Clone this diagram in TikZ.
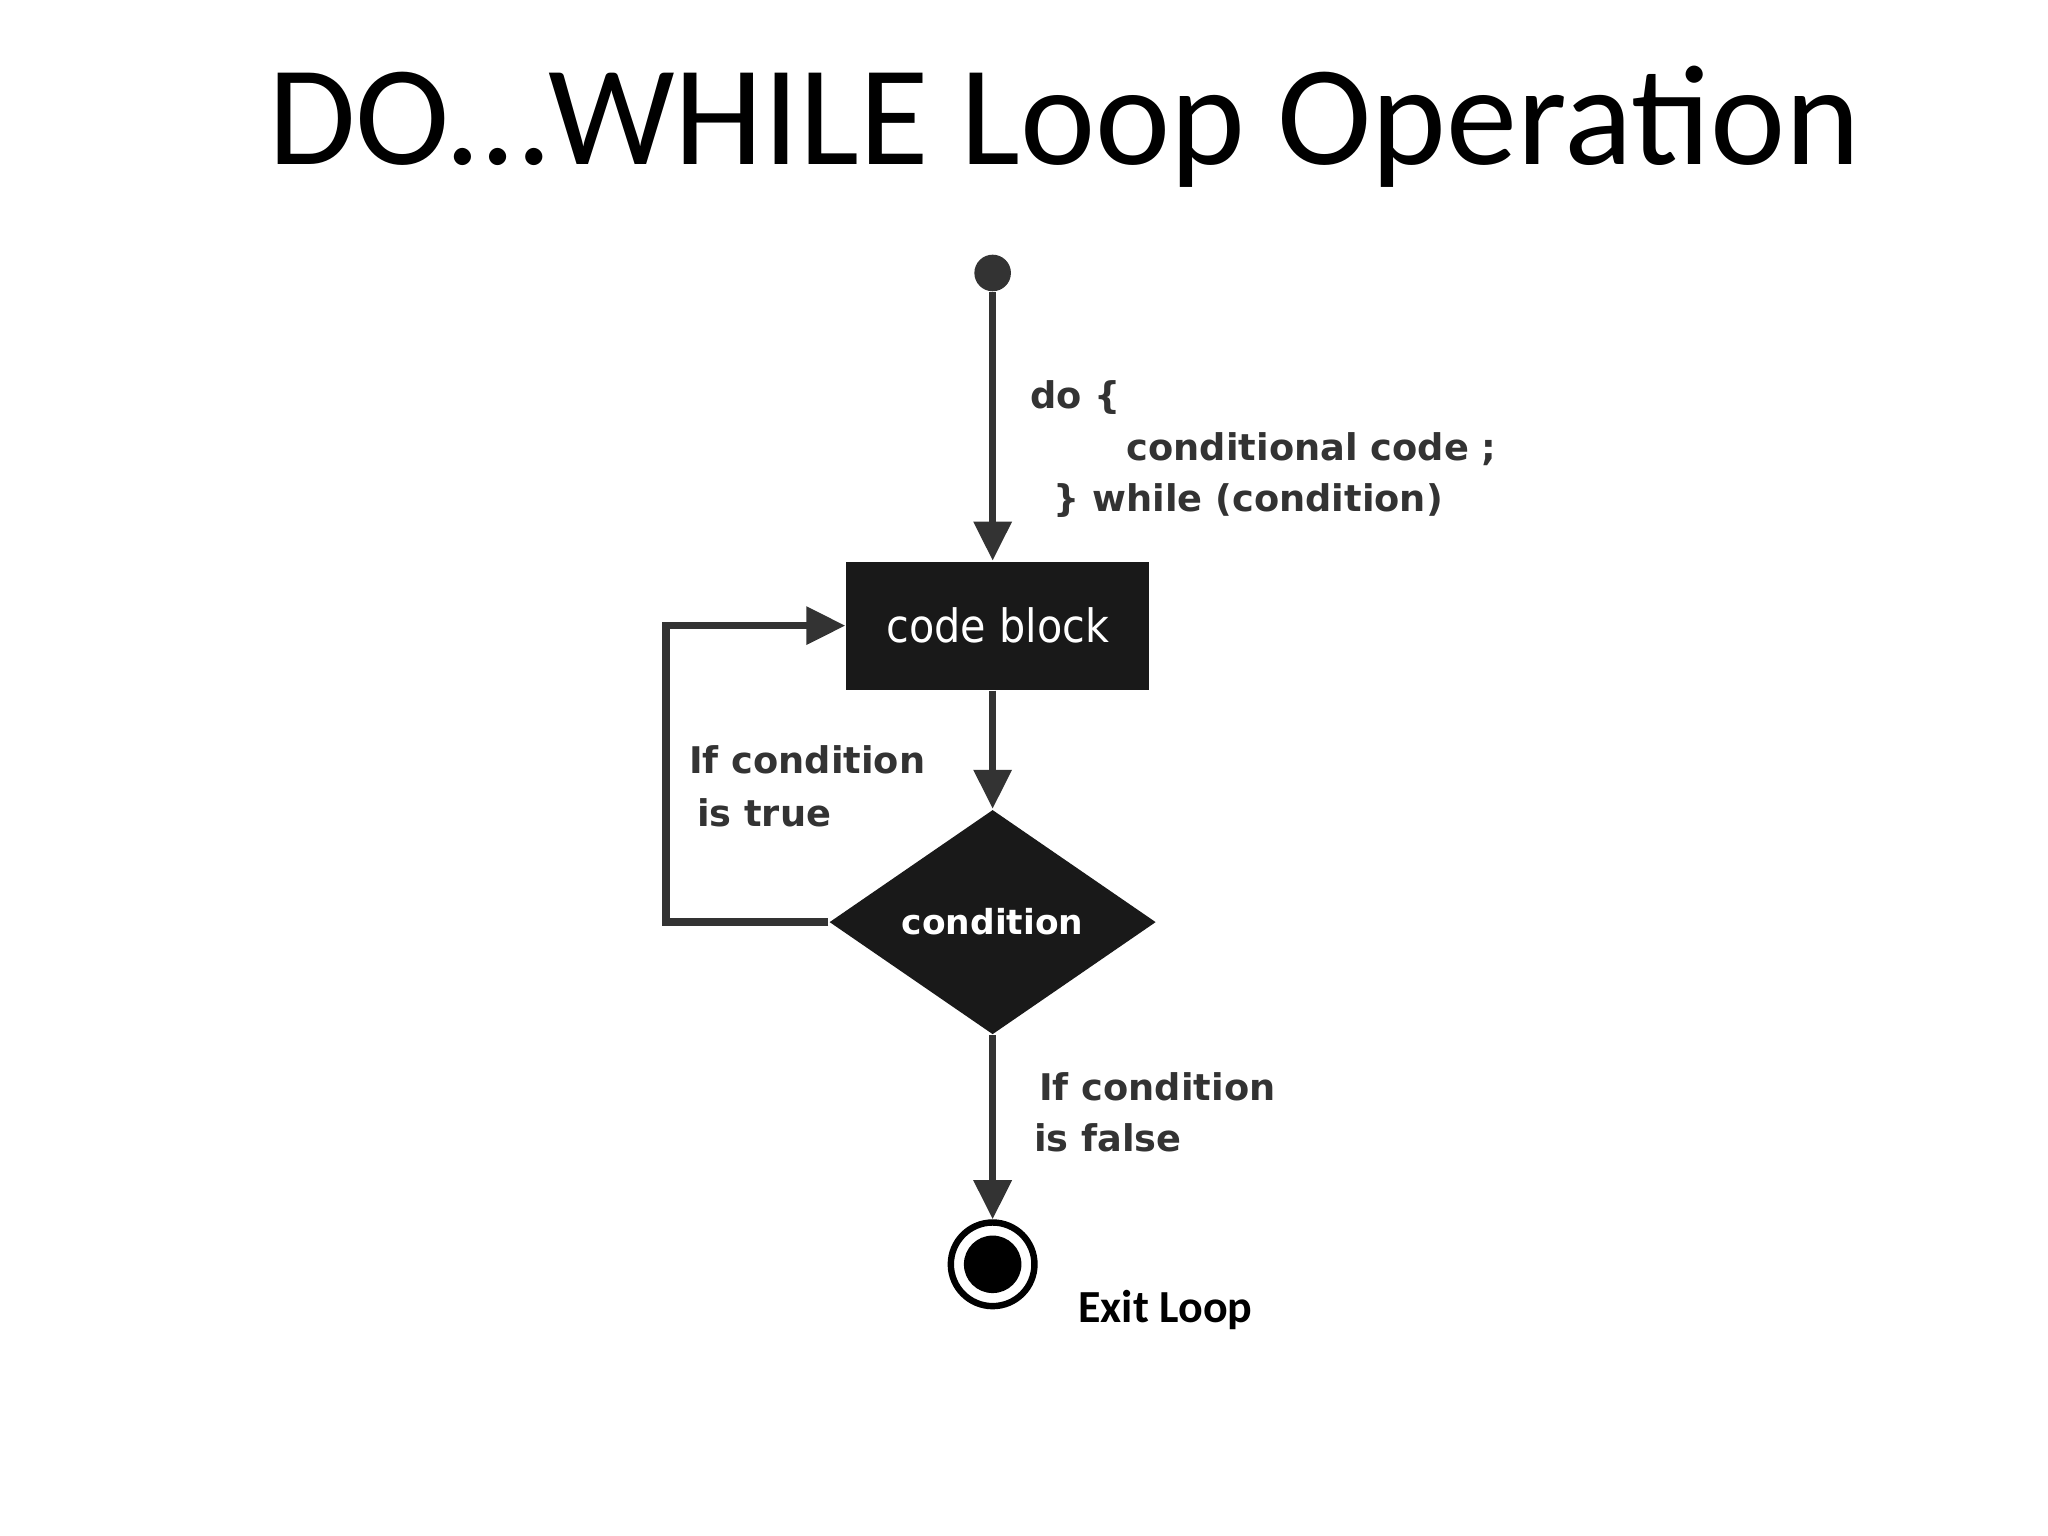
\documentclass[tikz,border=0pt]{standalone}
\usepackage{fontspec}
\setmainfont{Carlito}
\newfontfamily\lblfont{DejaVu Sans}
\newfontfamily\cbfont{DejaVu Sans Condensed}
\usetikzlibrary{shapes.geometric,arrows.meta}
\definecolor{ink}{HTML}{333333}
\tikzset{
  arr/.style={draw=ink,line width=1.6pt,-{Triangle[width=8pt,length=8.5pt]}},
  lbl/.style={anchor=west,text=ink,font=\lblfont\bfseries\fontsize{8}{9}\selectfont,inner sep=0pt},
}
\begin{document}
\begin{tikzpicture}[x=0.01cm,y=-0.01cm]
\useasboundingbox (0,0) rectangle (1568,1176);
\node (title) at (815,97) {\fontsize{31}{36}\selectfont DO\ldots WHILE Loop Operation};
\node[circle,fill=ink,inner sep=0pt,minimum size=0.28cm] (start) at (760,209) {};
\node[fill=black!90,minimum width=2.32cm,minimum height=0.98cm,text=white,font=\cbfont\fontsize{10}{12}\selectfont] (cb) at (764,479) {code block};
\node[diamond,fill=black!90,minimum width=2.5cm,minimum height=1.72cm,inner sep=0pt,aspect=1.45,text=white,font=\lblfont\bfseries\fontsize{7.5}{9}\selectfont] (cond) at (760,706) {condition};
\node[circle,draw=black,line width=1.4pt,minimum size=0.64cm,inner sep=0pt] (end) at (760,968) {};
\node[circle,fill=black,minimum size=0.44cm,inner sep=0pt] (endi) at (760,968) {};
\draw[arr] (start) -- (cb.north -| start);
\draw[arr] (cb.south -| start) -- (cond.north);
\coordinate (lb) at (510,706);
\coordinate (lt) at (510,479);
\draw[arr] (cond.west) -- (lb) -- (lt) -- (cb.west);
\draw[arr] (cond.south) -- (end.north);
\node[lbl] (l1) at (788,304) {do \{};
\node[lbl] (l2) at (862,344) {conditional code ;};
\node[lbl] (l3) at (806,383) {\} while (condition)};
\node[lbl] (t1) at (527,582) {If condition};
\node[lbl] (t2) at (533,622) {is true};
\node[lbl] (f1) at (795,832) {If condition};
\node[lbl] (f2) at (791,871) {is false};
\node[anchor=west,inner sep=0pt,font=\bfseries\fontsize{10}{12}\selectfont] (exit) at (825,1003) {Exit Loop};
\end{tikzpicture}
\end{document}
